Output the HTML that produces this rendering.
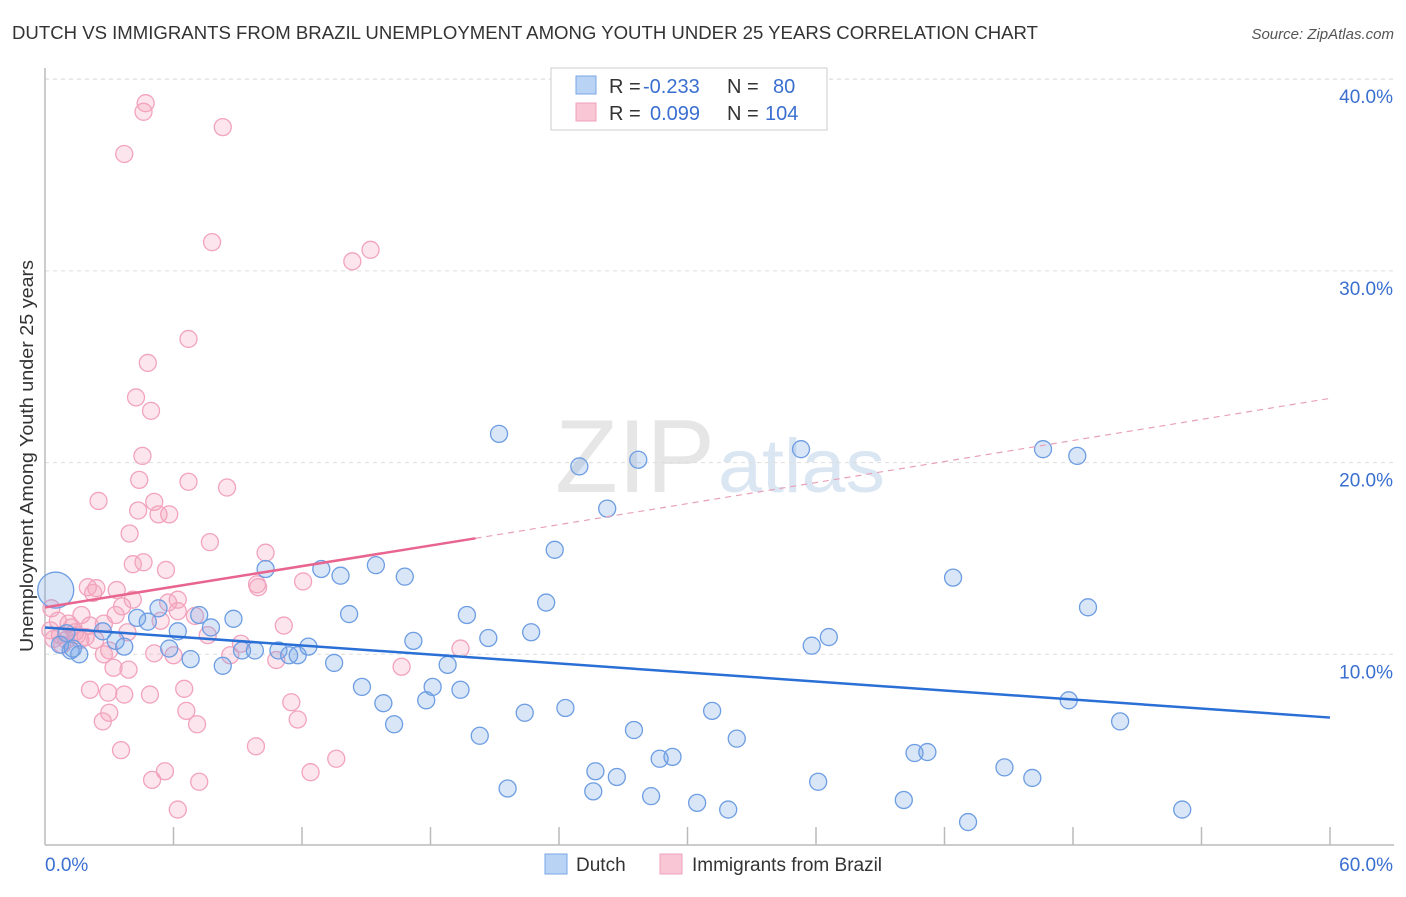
<!DOCTYPE html>
<html><head><meta charset="utf-8">
<style>
body{margin:0;background:#fff;font-family:"Liberation Sans",sans-serif;}
svg text{font-family:"Liberation Sans",sans-serif;}
</style></head>
<body>
<svg id="chart" width="1406" height="892" viewBox="0 0 1406 892">
<text x="12" y="39" font-size="18.5" fill="#333" textLength="1026" lengthAdjust="spacingAndGlyphs">DUTCH VS IMMIGRANTS FROM BRAZIL UNEMPLOYMENT AMONG YOUTH UNDER 25 YEARS CORRELATION CHART</text>
<text x="1394" y="39" font-size="15" fill="#555" font-style="italic" text-anchor="end">Source: ZipAtlas.com</text>
<text x="555" y="492" font-size="104" fill="#e6e6e6" font-family="Liberation Serif" textLength="160" lengthAdjust="spacingAndGlyphs">ZIP</text>
<text x="718" y="492" font-size="76" fill="#dbe6f3" textLength="167" lengthAdjust="spacingAndGlyphs">atlas</text>
<g id="grid"></g>
<g id="axes"></g>
<g id="pinkPts"></g>
<g id="bluePts"></g>
<g id="trends"></g>
<text x="33" y="456" font-size="18" fill="#333" text-anchor="middle" textLength="392" lengthAdjust="spacingAndGlyphs" transform="rotate(-90 33 456)">Unemployment Among Youth under 25 years</text>
<g>
<rect x="551" y="68" width="276" height="62" fill="#fff" stroke="#ccc"/>
<rect x="576" y="76" width="20" height="18" fill="#b9d3f5" stroke="#7aa6e6"/>
<rect x="576" y="103" width="20" height="18" fill="#f9c6d5" stroke="#f0a0bb"/>
<text x="609" y="93" font-size="20" fill="#333">R = <tspan fill="#3a6fd0" x="643">-0.233</tspan></text>
<text x="727" y="93" font-size="20" fill="#333">N = <tspan fill="#3a6fd0" x="773">80</tspan></text>
<text x="609" y="120" font-size="20" fill="#333">R = <tspan fill="#3a6fd0" x="650">0.099</tspan></text>
<text x="727" y="120" font-size="20" fill="#333">N = <tspan fill="#3a6fd0" x="765">104</tspan></text>
</g>
<g>
<rect x="545" y="854" width="22" height="20" fill="#b9d3f5" stroke="#7aa6e6"/>
<text x="576" y="871" font-size="19" fill="#333">Dutch</text>
<text x="692" y="871" font-size="19" fill="#333">Immigrants from Brazil</text>
<rect x="660" y="854" width="22" height="20" fill="#f9c6d5" stroke="#f0a0bb"/>
</g>
</svg>
<script>
const yTicks=[10,20,30,40];
const yTickLabels=["10.0%","20.0%","30.0%","40.0%"];
const xTickLabels=["0.0%","60.0%"];
const dutchX=[1.2,1.6,2.7,3.3,3.7,4.3,4.8,5.3,5.8,6.2,6.8,7.2,7.75,8.3,8.8,9.2,9.8,10.3,10.9,11.4,11.8,12.3,12.9,13.5,13.8,14.2,14.8,15.45,15.8,16.3,16.8,17.2,17.8,18.1,18.8,19.4,19.7,20.3,20.7,21.2,21.6,22.4,22.7,23.4,23.8,24.3,24.95,25.6,25.7,26.25,26.7,27.5,27.7,28.3,28.7,29.3,30.45,31.15,31.9,32.3,35.3,35.8,36.1,36.6,40.1,40.6,41.2,42.4,43.1,44.8,46.1,46.6,47.8,48.2,48.7,50.2,53.1,0.7,1.0,1.3];
const dutchY=[10.2,10.0,11.2,10.7,10.4,11.9,11.7,12.4,10.3,11.2,9.75,12.05,11.4,9.4,11.85,10.2,10.2,14.45,10.2,9.95,9.95,10.4,14.45,9.55,14.1,12.1,8.3,14.65,7.45,6.35,14.05,10.7,7.6,8.3,9.45,8.15,12.05,5.75,10.85,21.5,3.0,6.95,11.15,12.7,15.45,7.2,19.8,2.85,3.9,17.6,3.6,6.05,20.15,2.6,4.55,4.65,2.25,7.05,1.9,5.6,20.7,10.45,3.35,10.9,2.4,4.85,4.9,14.0,1.25,4.1,3.55,20.7,7.6,20.35,12.45,6.5,1.9,10.5,11.1,10.3];
const brazilX=[4.7,4.6,8.3,3.7,7.8,15.2,14.35,6.7,4.8,4.25,4.95,4.55,4.4,6.7,8.5,2.5,5.1,4.35,5.8,5.3,3.95,7.7,10.3,4.6,4.1,5.65,9.9,9.95,12.05,2.0,2.4,3.35,2.25,4.1,6.2,5.75,3.6,6.2,0.3,1.7,7.0,3.3,5.4,11.15,0.6,1.1,2.75,3.85,7.6,2.1,2.35,9.15,5.1,3.0,2.75,6.0,8.65,19.4,10.8,16.65,3.2,3.9,2.1,2.95,3.7,4.9,6.5,11.5,3.0,6.6,2.7,7.1,11.8,3.55,9.85,13.6,5.6,12.4,5.0,7.2,6.2,0.25,0.7,1.0,1.4,1.65,0.8,1.25,1.9,0.4,1.5];
const brazilY=[38.75,38.3,37.5,36.1,31.5,31.1,30.5,26.45,25.2,23.4,22.7,20.35,19.1,19.0,18.7,18.0,17.95,17.5,17.3,17.3,16.3,15.85,15.3,14.8,14.7,14.4,13.65,13.5,13.8,13.5,13.45,13.35,13.2,12.85,12.85,12.7,12.5,12.25,12.4,12.05,12.0,12.05,11.75,11.5,11.75,11.6,11.6,11.15,11.0,11.5,10.75,10.55,10.05,10.2,10.0,9.95,9.95,10.3,9.7,9.35,9.3,9.2,8.15,8.0,7.9,7.9,8.2,7.5,6.95,7.05,6.5,6.35,6.6,5.0,5.2,4.55,3.9,3.85,3.45,3.35,1.9,11.25,11.0,10.75,11.15,10.75,10.5,11.4,10.9,10.8,11.0];
const bigDutch=[0.5,13.35];
const dutchTrend=[[0,11.4],[60,6.7]];
const brazilTrendSolid=[[0,12.45],[20.1,16.05]];
const brazilTrendDash=[[20.1,16.05],[60,23.35]];

const X0=45,X1=1330,Y0=846,YS=19.17;
function sx(v){return X0+(X1-X0)*v/60;}
function sy(v){return Y0-v*YS;}
const NS="http://www.w3.org/2000/svg";
function mk(t,a,p){const e=document.createElementNS(NS,t);for(const k in a)e.setAttribute(k,a[k]);p.appendChild(e);return e;}
const grid=document.getElementById('grid'),axes=document.getElementById('axes');
mk('line',{x1:45,y1:79,x2:1394,y2:79,stroke:'#ddd','stroke-dasharray':'4,4'},grid);
yTicks.forEach((t,i)=>{
 const g=mk('line',{x1:45,y1:sy(t),x2:1394,y2:sy(t),stroke:'#ddd','stroke-dasharray':'4,4'},grid);
 
 
 const tx=mk('text',{x:1393,y:sy(t)+24,'font-size':19,fill:'#3a6fd0','text-anchor':'end'},axes);
 tx.textContent=yTickLabels[i];
 
 
});
const ax=mk('line',{x1:45,y1:845,x2:1394,y2:845,stroke:'#bbb','stroke-width':1.5},axes);


const ay=mk('line',{x1:45,y1:68,x2:45,y2:845,stroke:'#bbb','stroke-width':1.5},axes);


for(let i=1;i<=10;i++){const t=mk('line',{x1:sx(i*6),y1:827,x2:sx(i*6),y2:845,stroke:'#bbb','stroke-width':1.5},axes);
 
 }
[[0,'start',45],[60,'end',1393]].forEach((d,i)=>{const t=mk('text',{x:d[2],y:871,'font-size':19,fill:'#3a6fd0','text-anchor':d[1]},axes);t.textContent=xTickLabels[i];
 
 });
const pg=document.getElementById('pinkPts');
brazilX.forEach((x,i)=>{const c=mk('circle',{cx:sx(x),cy:sy(brazilY[i]),r:8.5,fill:'rgba(244,160,188,0.28)',stroke:'#f2a3bd','stroke-width':1.3},pg);
 
 });
const bg=document.getElementById('bluePts');
dutchX.forEach((x,i)=>{const c=mk('circle',{cx:sx(x),cy:sy(dutchY[i]),r:8.5,fill:'rgba(120,165,230,0.28)',stroke:'#6d9de2','stroke-width':1.3},bg);
 
 });
const bc=mk('circle',{cx:sx(bigDutch[0]),cy:sy(bigDutch[1]),r:18,fill:'rgba(120,165,230,0.28)',stroke:'#6d9de2','stroke-width':1.3},bg);


const tg=document.getElementById('trends');
function tl(p,st,dash,name,w){const l=mk('line',{x1:sx(p[0][0]),y1:sy(p[0][1]),x2:sx(p[1][0]),y2:sy(p[1][1]),stroke:st,'stroke-width':w},tg);if(dash)l.setAttribute('stroke-dasharray',dash);
 
 }
tl(dutchTrend,'#2a6fd6',null,'dutch-trend-line',2.5);
tl(brazilTrendSolid,'#e8658f',null,'brazil-trend-line',2.5);
tl(brazilTrendDash,'#e8a0b8','6,5','brazil-trend-extension',1.2);
</script>
</body></html>
